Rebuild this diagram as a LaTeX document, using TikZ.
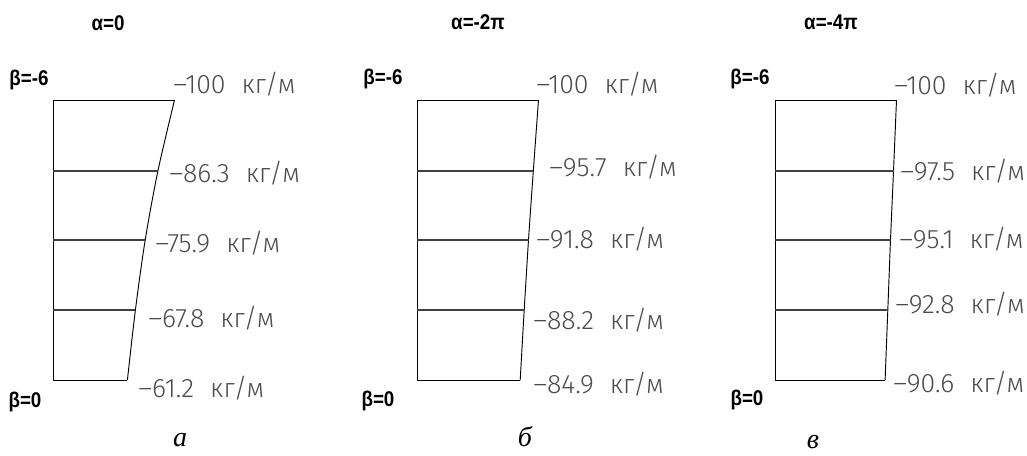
\documentclass[tikz,border=0pt]{standalone}
\usepackage{fontspec}
\setmainfont{Liberation Serif}
\newfontfamily\headfont{Liberation Sans}
\newfontfamily\cadfont{Fira Sans Light}
\usetikzlibrary{positioning}
\newcommand{\kgm}{\hspace{0.6em}кг/м}
\newcommand{\hd}[1]{\scalebox{0.88}[1]{#1}}

\begin{document}
\begin{tikzpicture}[
x=0.75pt, y=-0.75pt,
frame/.style={line width=0.7pt},
row/.style={line width=0.9pt, black!75},
load/.style={anchor=base west, inner sep=0pt, text=black!70, font=\cadfont\fontsize{20}{20}\selectfont},
head/.style={inner sep=0pt, font=\headfont\bfseries\fontsize{16}{16}\selectfont},
sub/.style={inner sep=0pt, font=\itshape\fontsize{21}{21}\selectfont}
]
\useasboundingbox (0,0) rectangle (1027,455);

% panel a
\coordinate (a0) at (174.5,100);
\coordinate (a1) at (157.9,171);
\coordinate (a2) at (145.2,240);
\coordinate (a3) at (135.4,310);
\coordinate (a4) at (127.4,380);
\draw[frame] (a0) -- (53,100) -- (53,380) -- (a4);
\draw[frame] plot[smooth] coordinates {(a0) (a1) (a2) (a3) (a4)};
\foreach \i in {1,2,3} \draw[row] (53,0 |- a\i) -- (a\i);
\node[head] (alpha-a) at (108,23) {\hd{α=0}};
\node[head] (top-a) at (29,80) {\hd{β=-6}};
\node[head] (bot-a) at (25,402) {\hd{β=0}};
\node[load] (qa0) at (173,93) {–100\kgm};
\node[load] (qa1) at (169,182) {–86.3\kgm};
\node[load] (qa2) at (155,252) {–75.9\kgm};
\node[load] (qa3) at (148,327) {–67.8\kgm};
\node[load] (qa4) at (138,397) {–61.2\kgm};
\node[sub] (cap-a) at (180,440) {а};

% panel b
\coordinate (b0) at (538.5,100);
\coordinate (b1) at (533.3,171);
\coordinate (b2) at (528.5,240);
\coordinate (b3) at (524.2,310);
\coordinate (b4) at (520.2,380);
\draw[frame] (b0) -- (417,100) -- (417,380) -- (b4);
\draw[frame] plot[smooth] coordinates {(b0) (b1) (b2) (b3) (b4)};
\foreach \i in {1,2,3} \draw[row] (417,0 |- b\i) -- (b\i);
\node[head] (alpha-b) at (478,22) {\hd{α=-2π}};
\node[head] (top-b) at (383,79) {\hd{β=-6}};
\node[head] (bot-b) at (378,401) {\hd{β=0}};
\node[load] (qb0) at (536,93) {–100\kgm};
\node[load] (qb1) at (549,176) {–95.7\kgm};
\node[load] (qb2) at (536,248) {–91.8\kgm};
\node[load] (qb3) at (533,329) {–88.2\kgm};
\node[load] (qb4) at (533,393) {–84.9\kgm};
\node[sub] (cap-b) at (525,437) {б};

% panel c
\coordinate (c0) at (896.5,100);
\coordinate (c1) at (893.5,171);
\coordinate (c2) at (890.5,240);
\coordinate (c3) at (887.8,310);
\coordinate (c4) at (885.1,380);
\draw[frame] (c0) -- (775,100) -- (775,380) -- (c4);
\draw[frame] plot[smooth] coordinates {(c0) (c1) (c2) (c3) (c4)};
\foreach \i in {1,2,3} \draw[row] (775,0 |- c\i) -- (c\i);
\node[head] (alpha-c) at (831,22) {\hd{α=-4π}};
\node[head] (top-c) at (750,79) {\hd{β=-6}};
\node[head] (bot-c) at (747,400) {\hd{β=0}};
\node[load] (qc0) at (894,94) {–100\kgm};
\node[load] (qc1) at (900,180) {–97.5\kgm};
\node[load] (qc2) at (899,248) {–95.1\kgm};
\node[load] (qc3) at (895,313) {–92.8\kgm};
\node[load] (qc4) at (893,392) {–90.6\kgm};
\node[sub] (cap-c) at (813,442) {в};
\end{tikzpicture}
\end{document}
